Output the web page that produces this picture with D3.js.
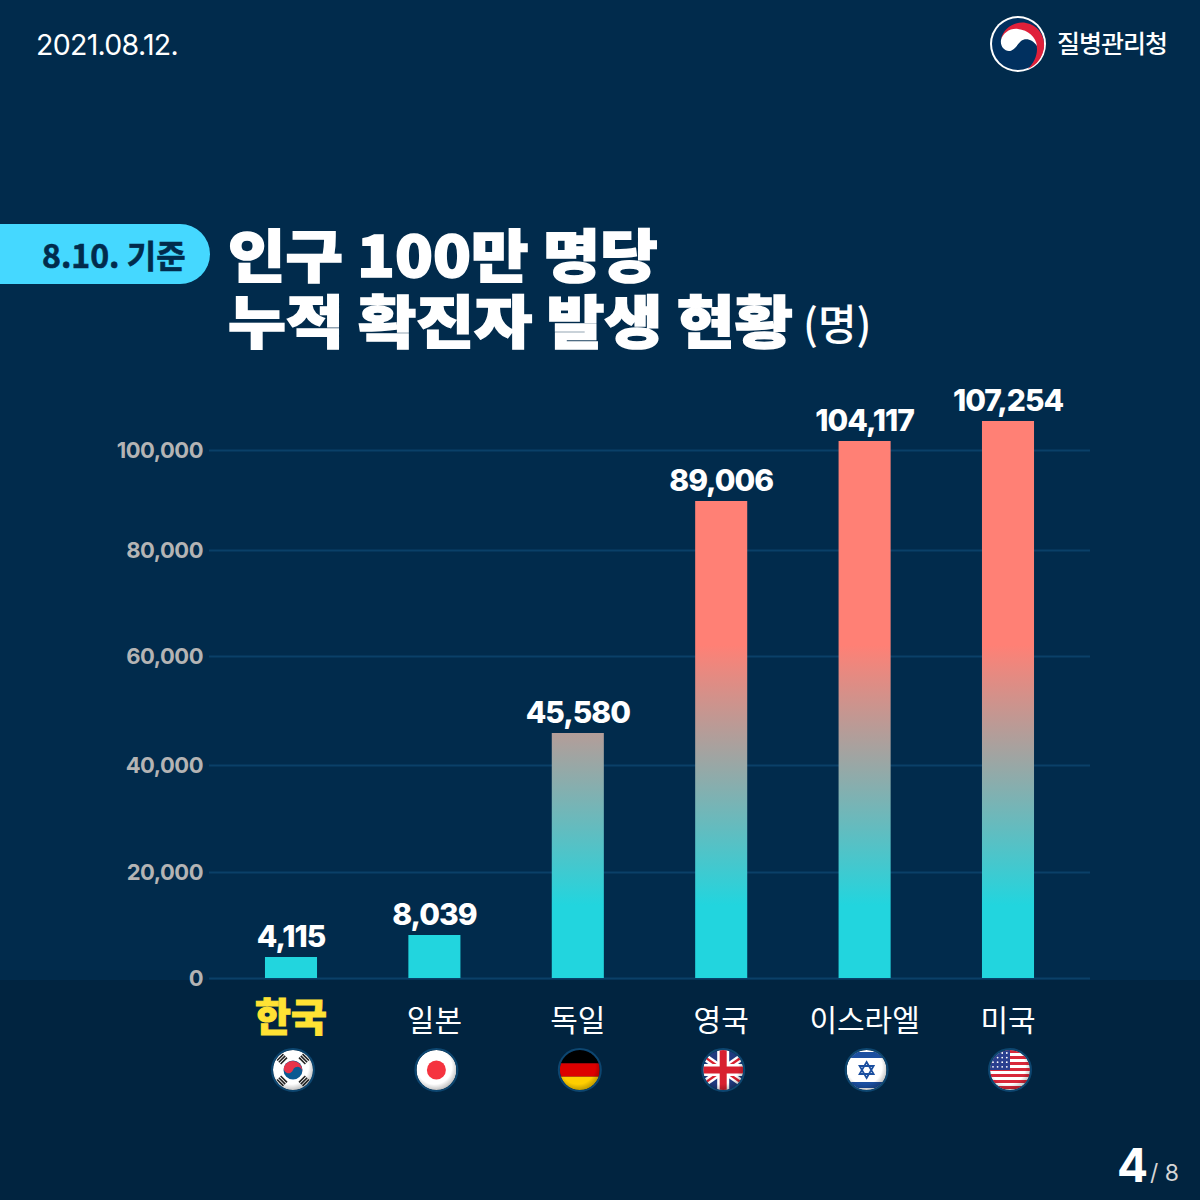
<!DOCTYPE html>
<html>
<head>
<meta charset="utf-8">
<script src="https://cdn.jsdelivr.net/npm/d3@7"></script>
<style>
html, body { margin: 0; padding: 0; background: #012b4c; }
svg { display: block; }
text { font-family: "Noto Sans CJK KR", sans-serif; }
.num { font-family: Inter, "Noto Sans CJK KR", sans-serif; }
</style>
</head>
<body>
<div id="chart"></div>
<script>
var categories = ["한국", "일본", "독일", "영국", "이스라엘", "미국"];
var values = [4115, 8039, 45580, 89006, 104117, 107254];
var tickValues = [0, 20000, 40000, 60000, 80000, 100000];
var flags = ["kr", "jp", "de", "gb", "il", "us"];

// the reference axis is not evenly spaced, so the scale is piecewise
var yDomain = [0, 4115, 8039, 20000, 40000, 45580, 60000, 80000, 89006, 100000, 104117, 107254];
var yRange = [978, 957, 935, 872, 765, 733, 656, 550, 501, 450, 441, 421];

var svg = d3.select("#chart").append("svg")
    .attr("width", 1200)
    .attr("height", 1200)
    .attr("viewBox", "0 0 1200 1200");

var defs = svg.append("defs");

var barGrad = defs.append("linearGradient")
    .attr("id", "barGrad")
    .attr("gradientUnits", "userSpaceOnUse")
    .attr("x1", 0).attr("x2", 0)
    .attr("y1", 645).attr("y2", 905);
barGrad.append("stop").attr("offset", 0).attr("stop-color", "#ff8075");
barGrad.append("stop").attr("offset", 1).attr("stop-color", "#22d5de");

var shade = defs.append("radialGradient")
    .attr("id", "shade")
    .attr("cx", "45%").attr("cy", "42%").attr("r", "62%");
shade.append("stop").attr("offset", "70%").attr("stop-color", "#000").attr("stop-opacity", 0);
shade.append("stop").attr("offset", "100%").attr("stop-color", "#000").attr("stop-opacity", 0.3);

// background
svg.append("rect").attr("width", 1200).attr("height", 1200).attr("fill", "#012b4c");
svg.append("rect").attr("y", 980).attr("width", 1200).attr("height", 220).attr("fill", "#012440");

// header
svg.append("text").attr("class", "num")
    .attr("x", 36).attr("y", 55)
    .attr("fill", "#fff")
    .attr("font-size", 28.5)
    .attr("letter-spacing", -0.7)
    .text("2021.08.12.");

var logo = svg.append("g");
logo.append("circle").attr("cx", 1018).attr("cy", 44).attr("r", 28).attr("fill", "#fff");
logo.append("circle").attr("cx", 1018).attr("cy", 44).attr("r", 26).attr("fill", "#01305f");
logo.append("path").attr("fill", "#e0203a")
    .attr("d", "M1001,40C1003,27 1016,21 1026,23C1038,25 1045,36 1044,47C1043,57 1037,65 1028,69C1035,62 1039,52 1036,43C1032,33 1022,28 1012,30C1007,31 1003,35 1001,40Z");
logo.append("path").attr("fill", "#fff")
    .attr("d", "M1001,40C1003,33 1010,28 1018,29C1028,30 1036,37 1037,46C1033,40 1026,37 1021,41C1017,45 1014,51 1009,51C1004,51 1000,46 1001,40Z");
svg.append("text")
    .attr("x", 1057).attr("y", 53)
    .attr("fill", "#fff")
    .attr("font-size", 25)
    .attr("font-weight", 500)
    .attr("letter-spacing", -1)
    .text("질병관리청");

// pill + title
svg.append("path").attr("fill", "#45d8ff")
    .attr("d", "M0,224H180A30,30 0 0 1 180,284H0Z");
svg.append("text")
    .attr("x", 42).attr("y", 268)
    .attr("fill", "#012b4c")
    .attr("stroke", "#012b4c")
    .attr("stroke-width", 0.6)
    .attr("font-size", 32)
    .attr("font-weight", 700)
    .text("8.10. 기준");

// title glyphs in the reference are wider and shorter than Noto, hence the x scale
svg.append("text")
    .attr("transform", "translate(228,277) scale(1.095,1)")
    .attr("fill", "#fff")
    .attr("stroke", "#fff")
    .attr("stroke-width", 1.6)
    .attr("font-size", 57)
    .attr("font-weight", 900)
    .text("인구 100만 명당");
svg.append("text")
    .attr("transform", "translate(228,343) scale(1.105,1)")
    .attr("fill", "#fff")
    .attr("stroke", "#fff")
    .attr("stroke-width", 1.6)
    .attr("font-size", 57)
    .attr("font-weight", 900)
    .text("누적 확진자 발생 현황");
svg.append("text")
    .attr("x", 803).attr("y", 340)
    .attr("fill", "#fff")
    .attr("font-size", 42)
    .attr("font-weight", 500)
    .text("(명)");

// scales
var x = d3.scaleBand()
    .domain(categories)
    .range([219.3, 1079.7])
    .paddingInner(0.637)
    .paddingOuter(0.3185);
var y = d3.scaleLinear()
    .domain(yDomain)
    .range(yRange);

// y axis
var yAxis = svg.append("g")
    .attr("transform", "translate(209,0)")
    .call(d3.axisLeft(y)
        .tickValues(tickValues)
        .tickSize(-881)
        .tickPadding(6)
        .tickFormat(d3.format(",")));
yAxis.select(".domain").remove();
yAxis.selectAll(".tick line")
    .attr("stroke", "#0a4068")
    .attr("stroke-width", 2);
yAxis.selectAll(".tick text")
    .attr("class", "num")
    .attr("fill", "#b4b4b4")
    .attr("font-size", 22)
    .attr("font-weight", 700)
    .attr("letter-spacing", -0.5);

// bars
svg.selectAll(".bar")
    .data(values)
    .enter()
    .append("rect")
    .attr("class", "bar")
    .attr("x", function(d, i) { return x(categories[i]); })
    .attr("y", function(d) { return y(d); })
    .attr("width", x.bandwidth())
    .attr("height", function(d) { return y(0) - y(d); })
    .attr("fill", "url(#barGrad)");

// value labels
svg.selectAll(".val")
    .data(values)
    .enter()
    .append("text")
    .attr("class", "val num")
    .attr("x", function(d, i) { return x(categories[i]) + x.bandwidth() / 2; })
    .attr("y", function(d) { return y(d) - 10; })
    .attr("text-anchor", "middle")
    .attr("fill", "#fff")
    .attr("font-size", 30)
    .attr("font-weight", 800)
    .attr("letter-spacing", -1)
    .text(function(d) { return d3.format(",")(d); });

// category labels
svg.selectAll(".cat")
    .data(categories)
    .enter()
    .append("text")
    .attr("class", "cat")
    .attr("x", function(d) { return x(d) + x.bandwidth() / 2; })
    .attr("y", function(d, i) { return i == 0 ? 1031 : 1031; })
    .attr("text-anchor", "middle")
    .attr("fill", function(d, i) { return i == 0 ? "#ffe234" : "#fff"; })
    .attr("stroke", function(d, i) { return i == 0 ? "#ffe234" : "none"; })
    .attr("font-size", function(d, i) { return i == 0 ? 39 : 30; })
    .attr("font-weight", function(d, i) { return i == 0 ? 900 : 400; })
    .text(function(d) { return d; });

// flags
var R = 20;
var flagG = svg.selectAll(".flag")
    .data(flags)
    .enter()
    .append("g")
    .attr("class", "flag")
    .attr("transform", function(d, i) {
        return "translate(" + (x(categories[i]) + x.bandwidth() / 2 + 2) + ",1070)";
    });

defs.append("clipPath").attr("id", "flagClip")
    .append("circle").attr("r", R);

flagG.each(function(code) {
    var g = d3.select(this).append("g").attr("clip-path", "url(#flagClip)");
    function rect(px, py, w, h, fill, rot) {
        var r = g.append("rect").attr("x", px).attr("y", py).attr("width", w).attr("height", h).attr("fill", fill);
        if (rot) r.attr("transform", "rotate(" + rot + ")");
        return r;
    }
    if (code == "kr") {
        rect(-R, -R, 2 * R, 2 * R, "#fff");
        g.append("circle").attr("r", 9.5).attr("fill", "#0b5a92");
        g.append("path").attr("fill", "#e8344a")
            .attr("d", "M-9,-3A9.5,9.5 0 0 1 9,3A4.7,4.7 0 0 0 0,0A4.7,4.7 0 0 1 -9,-3Z");
        [45, 135, 225, 315].forEach(function(a) {
            var t = g.append("g").attr("transform", "rotate(" + a + ") translate(0,-15.5)");
            [-2.5, 0, 2.5].forEach(function(o) {
                t.append("rect").attr("x", -4.5).attr("y", o - 0.8).attr("width", 9).attr("height", 1.6).attr("fill", "#222");
            });
        });
    } else if (code == "jp") {
        rect(-R, -R, 2 * R, 2 * R, "#fff");
        g.append("circle").attr("r", 9.5).attr("fill", "#f5333f");
    } else if (code == "de") {
        rect(-R, -R, 2 * R, 13.5, "#000");
        rect(-R, -6.7, 2 * R, 13.4, "#dd0000");
        rect(-R, 6.7, 2 * R, 13.5, "#ffce00");
    } else if (code == "gb") {
        rect(-R, -R, 2 * R, 2 * R, "#1f3a80");
        rect(-30, -3.5, 60, 7, "#fff", 35);
        rect(-30, -3.5, 60, 7, "#fff", -35);
        rect(-30, -1.2, 60, 2.4, "#d8202f", 35);
        rect(-30, -1.2, 60, 2.4, "#d8202f", -35);
        rect(-R, -6, 2 * R, 12, "#fff");
        rect(-6, -R, 12, 2 * R, "#fff");
        rect(-R, -3.5, 2 * R, 7, "#d8202f");
        rect(-3.5, -R, 7, 2 * R, "#d8202f");
    } else if (code == "il") {
        rect(-R, -R, 2 * R, 2 * R, "#fff");
        rect(-R, -18, 2 * R, 6, "#1b4fa0");
        rect(-R, 12, 2 * R, 6, "#1b4fa0");
        g.append("path").attr("fill", "none").attr("stroke", "#1b4fa0").attr("stroke-width", 1.8)
            .attr("d", "M0,-8L7,4H-7ZM0,8L7,-4H-7Z");
    } else if (code == "us") {
        rect(-R, -R, 2 * R, 2 * R, "#fff");
        d3.range(7).forEach(function(k) {
            rect(-R, -R + k * 6, 2 * R, 3, "#d8283a");
        });
        rect(-R, -R, 20, 20, "#2a3f8f");
        d3.range(4).forEach(function(r) {
            d3.range(4).forEach(function(c) {
                g.append("circle").attr("cx", -17 + c * 4.6).attr("cy", -17 + r * 4.6).attr("r", 0.9).attr("fill", "#fff");
            });
        });
    }
    d3.select(this).append("circle").attr("r", R).attr("fill", "url(#shade)");
    d3.select(this).append("circle").attr("r", R + 1).attr("fill", "none")
        .attr("stroke", "#0d4670").attr("stroke-width", 2);
});

// page number
svg.append("text").attr("class", "num")
    .attr("x", 1117).attr("y", 1182)
    .attr("fill", "#fff")
    .attr("font-size", 46)
    .attr("font-weight", 700)
    .text("4");
svg.append("text").attr("class", "num")
    .attr("x", 1150).attr("y", 1181)
    .attr("fill", "#d5d5d5")
    .attr("font-size", 23)
    .text("/ 8");
</script>
</body>
</html>
